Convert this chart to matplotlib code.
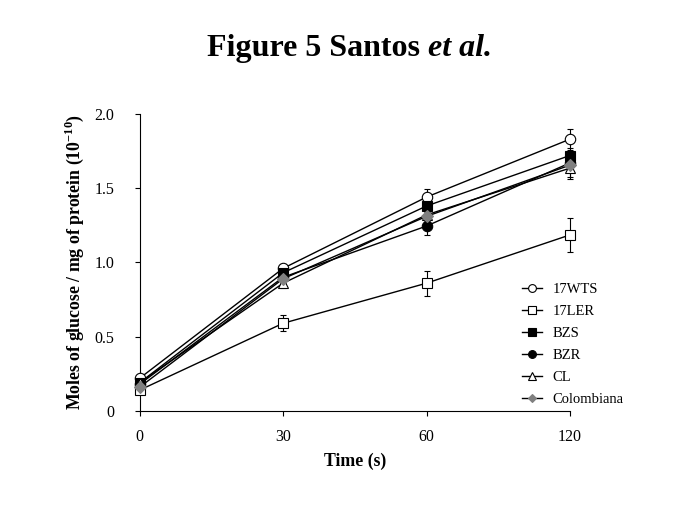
import matplotlib.pyplot as plt
from matplotlib.lines import Line2D

plt.rcParams['font.family'] = ['Liberation Serif', 'DejaVu Serif']
plt.rcParams['mathtext.fontset'] = 'custom'
plt.rcParams['mathtext.rm'] = 'Liberation Serif'
plt.rcParams['mathtext.bf'] = 'Liberation Serif:bold'

times = ['0', '30', '60', '120']
names = ['17WTS', '17LER', 'BZS', 'BZR', 'CL', 'Colombiana']
wts = [0.22, 0.96, 1.44, 1.83]
wts_err = [0.02, 0.03, 0.055, 0.07]
ler = [0.14, 0.59, 0.86, 1.185]
ler_err = [0.02, 0.055, 0.085, 0.115]
bzs = [0.19, 0.93, 1.38, 1.72]
bzs_err = [0.02, 0.03, 0.04, 0.05]
bzr = [0.18, 0.90, 1.245, 1.67]
bzr_err = [0.02, 0.03, 0.06, 0.05]
cl = [0.19, 0.86, 1.32, 1.635]
cl_err = [0.02, 0.03, 0.04, 0.07]
col = [0.16, 0.89, 1.31, 1.655]
col_err = [0.02, 0.03, 0.04, 0.08]

series = [wts, ler, bzs, bzr, cl, col]
errors = [wts_err, ler_err, bzs_err, bzr_err, cl_err, col_err]
markers = ['o', 's', 's', 'o', '^', 'D']
faces = ['white', 'white', 'black', 'black', 'white', 'gray']
edges = ['black', 'black', 'black', 'black', 'black', 'gray']
sizes = [7.5, 7.5, 7.5, 7.5, 7, 6]

fig = plt.figure(figsize=(6.85, 5.11), dpi=100)
ax = fig.add_axes([0.204, 0.196, 0.628, 0.581])

x = list(range(len(times)))
handles = []
for vals, err, name, m, fc, ec, ms in zip(series, errors, names, markers, faces, edges, sizes):
    ax.errorbar(x, vals, yerr=err, color='black', lw=1, elinewidth=0.8,
                capsize=2.5, capthick=0.8, marker=m, markersize=ms,
                markerfacecolor=fc, markeredgecolor=ec, markeredgewidth=0.8,
                clip_on=False, zorder=3)
    handles.append(Line2D([], [], color='black', lw=1, marker=m, markersize=ms * 0.75,
                          markerfacecolor=fc, markeredgecolor=ec,
                          markeredgewidth=0.8, label=name))

ax.set_xlim(0, 3)
ax.set_ylim(0, 2.0)
ax.set_xticks(x)
ax.set_xticklabels(times)
ax.set_yticks([0, 0.5, 1.0, 1.5, 2.0])
ax.set_yticklabels(['0', '0.5', '1.0', '1.5', '2.0'])
ax.tick_params(axis='both', direction='out', length=3.5, width=0.8, labelsize=11.5)
ax.tick_params(axis='y', pad=15)
ax.tick_params(axis='x', pad=9.5)
for s in ['top', 'right']:
    ax.spines[s].set_visible(False)
for s in ['left', 'bottom']:
    ax.spines[s].set_linewidth(0.8)

ax.set_xlabel('Time (s)', fontsize=12.8, fontweight='bold', labelpad=5.5)
ax.set_ylabel(r'Moles of glucose / mg of protein (10$^{\mathbf{-10}}$)',
              fontsize=12.8, fontweight='bold', labelpad=6)

ax.legend(handles=handles, loc='upper left', bbox_to_anchor=(0.743, 0.472),
          bbox_transform=fig.transFigure, frameon=False, fontsize=10.5,
          handlelength=1.4, handletextpad=0.7, labelspacing=0.6)

fig.text(0.625, 0.89, 'Figure 5 Santos ', fontsize=23, fontweight='bold',
         ha='right', va='baseline')
fig.text(0.625, 0.89, 'et al.', fontsize=23, fontweight='bold', style='italic',
         ha='left', va='baseline')

fig.savefig('out.png', dpi=100)
